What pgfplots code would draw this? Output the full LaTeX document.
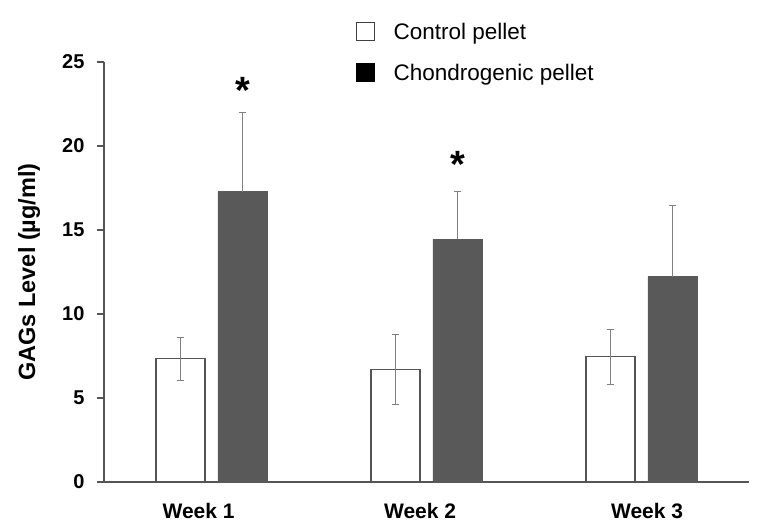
\documentclass[border=0pt]{standalone}
\usepackage{fontspec}
\setmainfont{Liberation Sans}
\usepackage{pgfplots}
\pgfplotsset{compat=1.18}
\definecolor{dgray}{HTML}{595959}
\definecolor{egray}{HTML}{808080}
\definecolor{agray}{HTML}{555555}
\begin{document}
\begin{tikzpicture}[x=1pt,y=1pt]
\useasboundingbox (0,0) rectangle (764,531);
\begin{axis}[
  at={(104pt,49pt)}, anchor=south west,
  scale only axis, width=645pt, height=420pt,
  xmin=-0.5, xmax=2.5, ymin=0, ymax=25,
  axis lines=left,
  axis line style={draw=agray, line width=1.2pt, -},
  ytick={0,5,...,25},
  tick style={draw=agray, line width=1.2pt},
  tick align=outside, major tick length=7pt,
  xtick={-0.06,0.97,2.026}, xticklabels={Week 1, Week 2, Week 3},
  x tick style={draw=none},
  extra x ticks={0.5,1.5}, extra x tick labels={},
  extra x tick style={tick align=inside, major tick length=5pt, tick style={draw=agray, line width=1.2pt}},
  yticklabel style={font=\fontsize{20}{20}\selectfont\bfseries, xshift=-9pt},
  xticklabel style={font=\fontsize{21}{21}\selectfont\bfseries, yshift=-11pt},
  /pgf/number format/assume math mode=true,
  ylabel={GAGs Level (µg/ml)},
  ylabel style={font=\fontsize{23.5}{23.5}\selectfont\bfseries, at={(axis description cs:-0.116,0.5)}, anchor=center},
  legend style={at={(axis description cs:0.385,1.103)}, anchor=north west, draw=none, fill=none,
    font=\fontsize{22.5}{22.5}\selectfont, row sep=19pt, column sep=17pt},
  legend cell align=left,
  clip=false,
]
\addlegendimage{legend image code/.code={\draw[fill=white,draw=black!75,line width=1pt] (0pt,-9pt) rectangle (18pt,9pt);}}
\addlegendimage{legend image code/.code={\draw[fill=black,draw=black] (0pt,-9pt) rectangle (18pt,9pt);}}
\legend{Control pellet, Chondrogenic pellet}

% control pellet: bars placed 31pt left of each week's centre (31/215 = 0.144 units)
\addplot[ybar, forget plot, bar width=49pt, bar shift=0pt, fill=white, draw=agray, line width=1.2pt,
  error bars/.cd, y dir=both, y explicit,
  error bar style={egray, line width=1pt},
  error mark options={egray, rotate=90, mark size=3.8pt, line width=1pt}]
  coordinates {(-0.144,7.33) +- (0,1.30) (0.856,6.69) +- (0,2.07) (1.856,7.46) +- (0,1.63)};
% chondrogenic pellet: bars placed 31pt right of each week's centre
\addplot[ybar, forget plot, bar width=49pt, bar shift=0pt, fill=dgray, draw=dgray, line width=0.5pt,
  error bars/.cd, y dir=plus, y explicit,
  error bar style={egray, line width=1pt},
  error mark options={egray, rotate=90, mark size=3.8pt, line width=1pt}]
  coordinates {(0.144,17.28) +- (0,4.74) (1.144,14.46) +- (0,2.82) (2.144,12.22) +- (0,4.23)};

\node[anchor=base, inner sep=0pt] at (axis cs:0.144,22.5) {\fontsize{38}{38}\selectfont\bfseries *};
\node[anchor=base, inner sep=0pt] at (axis cs:1.144,18.1) {\fontsize{38}{38}\selectfont\bfseries *};
\end{axis}
\end{tikzpicture}
\end{document}
